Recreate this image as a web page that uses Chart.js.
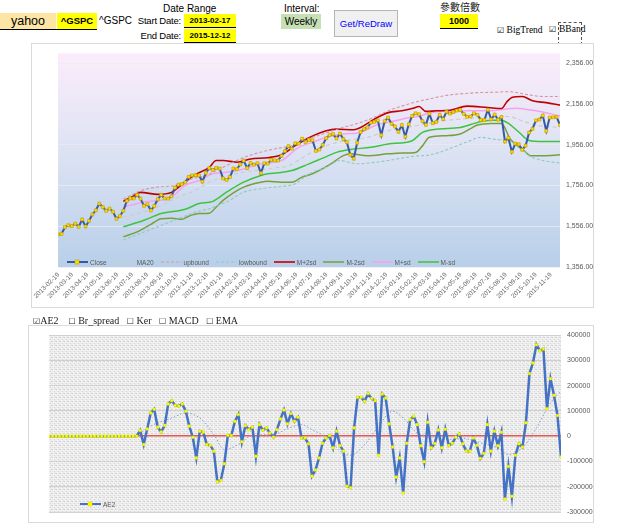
<!DOCTYPE html>
<html><head><meta charset="utf-8">
<script src="https://cdn.jsdelivr.net/npm/chart.js@4.4.1/dist/chart.umd.min.js"></script>
<style>
html,body{margin:0;padding:0;background:#fff;}
body{width:640px;height:527px;position:relative;overflow:hidden;font-family:"Liberation Sans",Arial,sans-serif;color:#000;}
.a{position:absolute;white-space:nowrap;}
.box{position:absolute;text-align:center;box-sizing:border-box;}
.panel{position:absolute;box-sizing:border-box;border:1px solid #dadada;background:#fff;}
canvas{position:absolute;}
.serif{font-family:"Liberation Serif","Times New Roman",serif;}
.leg{position:absolute;display:flex;align-items:center;font-size:6.5px;color:#595959;white-space:nowrap;}
.leg .it{display:flex;align-items:center;margin-right:7px;}
.leg svg{margin-right:2px;}
.cb{font-family:'DejaVu Sans';font-size:8px;}
</style></head><body>

<!-- header -->
<div class="box" style="left:0;top:13px;width:56px;height:16px;background:#fde5a6;font-size:12.5px;line-height:16px;">yahoo</div>
<div class="box" style="left:57px;top:13px;width:40px;height:16px;background:#ffff00;font-size:9.5px;font-weight:bold;line-height:16px;">^GSPC</div>
<div class="a" style="left:0;top:29px;width:97px;height:1px;background:#000;"></div>
<div class="a" style="left:99px;top:14px;font-size:10px;line-height:14px;">^GSPC</div>
<div class="a" style="left:163px;top:2px;font-size:10px;line-height:14px;">Date Range</div>
<div class="a" style="left:120px;width:61px;text-align:right;top:14px;font-size:9.5px;letter-spacing:-0.2px;line-height:14px;">Start Date:</div>
<div class="box" style="left:184px;top:14px;width:52px;height:14px;background:#ffff00;border-bottom:1px solid #000;font-size:8px;font-weight:bold;line-height:13px;">2013-02-17</div>
<div class="a" style="left:120px;width:61px;text-align:right;top:29px;font-size:9.5px;letter-spacing:-0.2px;line-height:14px;">End Date:</div>
<div class="box" style="left:184px;top:29px;width:52px;height:14px;background:#ffff00;border-bottom:1px solid #000;font-size:8px;font-weight:bold;line-height:13px;">2015-12-12</div>
<div class="a" style="left:284px;top:2px;font-size:10px;line-height:14px;">Interval:</div>
<div class="box" style="left:281px;top:14px;width:40px;height:15px;background:#c6e0b4;font-size:10px;line-height:15px;">Weekly</div>
<div class="box" style="left:334px;top:10px;width:64px;height:27px;background:#f0f0f0;border:1px solid #b5b5b5;color:#0000ff;font-size:9.5px;line-height:25px;">Get/ReDraw</div>
<div class="a" style="left:440px;top:0px;font-size:10px;line-height:13px;font-family:'Noto Sans CJK TC',sans-serif;color:#222;">參數倍數</div>
<div class="box" style="left:440px;top:14px;width:38px;height:15px;background:#ffff00;border-bottom:1px solid #000;font-size:9px;font-weight:bold;line-height:14px;">1000</div>
<div class="a serif" style="left:497px;top:24px;font-size:9.5px;line-height:12px;"><span class="cb">☑</span> BigTrend</div>
<div class="a" style="left:549px;top:24px;font-size:8px;line-height:12px;font-family:'DejaVu Sans';">☑</div>
<div class="a serif" style="left:558px;top:22px;width:24px;height:23px;box-sizing:border-box;border:1px dashed #555;font-size:9.5px;line-height:12px;">BBand</div>

<!-- top panel -->
<div class="panel" style="left:31px;top:43px;width:563px;height:265px;"></div>
<canvas id="top" width="563" height="265" style="left:31px;top:43px;width:563px;height:265px;"></canvas>
<div id="legTop" class="leg" style="left:67px;top:258px;height:8px;"></div>

<!-- lower panel -->
<div class="panel" style="left:28px;top:325px;width:566px;height:198px;"></div>
<canvas id="low" width="566" height="198" style="left:28px;top:325px;width:566px;height:198px;"></canvas>
<div id="legLow" class="leg" style="left:80px;top:500px;height:8px;"></div>

<!-- lower checkboxes -->
<div class="a serif" style="left:33px;top:313px;font-size:10px;line-height:15px;color:#222;z-index:3;">
<span class="cb">☑</span>AE2&nbsp;&nbsp;&nbsp;&nbsp;<span class="cb">☐</span> Br_spread&nbsp;&nbsp;&nbsp;<span class="cb">☐</span> Ker&nbsp;&nbsp;&nbsp;<span class="cb">☐</span> MACD&nbsp;&nbsp;&nbsp;<span class="cb">☐</span> EMA</div>

<script>
// ---------- data ----------
const baseDate = '2013-02-18';
const monthLabels = ['2013-02-19','2013-03-19','2013-04-19','2013-05-19','2013-06-19','2013-07-19','2013-08-19','2013-09-19','2013-10-19','2013-11-19','2013-12-19',
 '2014-01-19','2014-02-19','2014-03-19','2014-04-19','2014-05-19','2014-06-19','2014-07-19','2014-08-19','2014-09-19','2014-10-19','2014-11-19','2014-12-19',
 '2015-01-19','2015-02-19','2015-03-19','2015-04-19','2015-05-19','2015-06-19','2015-07-19','2015-08-19','2015-09-19','2015-10-19','2015-11-19'];
const topTicks = [1356,1556,1756,1956,2156,2356];
const lowTicks = [-300000,-200000,-100000,0,100000,200000,300000,400000];

// weekly close
const closeVals = [1516,1518,1551,1561,1557,1569,1553,1589,1555,1582,1614,1634,1667,1650,1631,1643,1627,1592,1606,1632,
 1680,1692,1692,1710,1691,1656,1664,1633,1655,1688,1710,1692,1691,1703,1745,1760,1762,1771,1798,1805,
 1806,1805,1775,1818,1841,1831,1842,1839,1790,1783,1797,1839,1836,1859,1878,1841,1866,1858,1865,1816,
 1865,1863,1881,1879,1878,1901,1924,1949,1936,1963,1961,1985,1968,1978,1978,1925,1932,1955,1988,2003,
 2008,1986,2010,1983,1968,1906,1887,1965,2018,2032,2040,2064,2068,2075,2002,2071,2089,2058,2045,2019,
 2052,1995,2056,2097,2110,2105,2071,2053,2108,2061,2067,2102,2081,2118,2108,2116,2123,2126,2107,2093,
 2094,2110,2102,2077,2077,2127,2080,2104,2078,2092,1971,1989,1921,1961,1958,1931,1951,2015,2033,2075,
 2079,2099,2023,2089,2090,2092,2052];

// band lines (week index, value)
const ma20Weeks = [19,25,30,35,40,44,49,54,59,63,67,73,78,84,90,96,103,112,120,127,131,135,139,146];
const ma20Vals  = [1601,1626,1658,1699,1732,1772,1801,1821,1833,1842,1853,1911,1951,1976,1992,2024,2045,2073,2085,2089,2094,2073,2052,2040];
const upWeeks = [19,24,29,34,39,43,48,53,58,63,68,72,77,82,88,92,96,100,104,108,112,117,122,127,131,136,141,146];
const upVals  = [1688,1730,1748,1756,1789,1805,1845,1886,1915,1935,1951,1980,2008,2036,2065,2090,2122,2145,2165,2180,2195,2205,2211,2213,2216,2203,2192,2192];
const lowWeeks = [19,25,30,35,40,44,49,54,59,64,69,73,78,82,87,91,96,100,104,108,115,119,123,127,131,134,137,141,146];
const lowVals  = [1488,1528,1560,1593,1625,1642,1675,1723,1740,1750,1764,1813,1845,1878,1862,1867,1878,1890,1900,1905,1943,1970,1992,1982,1975,1950,1902,1878,1866];
const p2Weeks = [19,22,24,29,33,36,40,44,46,48,52,56,61,65,69,73,78,81,86,88,92,96,100,103,105,107,110,114,119,125,129,130.5,132,135,138,142,146];
const p2Vals  = [1678,1705,1722,1712,1722,1760,1810,1845,1878,1878,1870,1886,1892,1906,1951,1990,2024,2032,2029,2040,2081,2113,2122,2133,2143,2119,2122,2125,2145,2138,2133,2165,2187,2192,2171,2162,2150];
const m2Weeks = [19,23,27,30,33,36,38,41,44,46,48,51,54,59,61,65,68,71,74,79,83,85,90,96,100,104,106,108,113,117,120,122,126,129,131.5,135.5,137.5,141,146];
const m2Vals  = [1504,1528,1565,1593,1595,1590,1605,1618,1620,1650,1683,1720,1748,1772,1776,1772,1772,1797,1813,1858,1902,1911,1902,1911,1915,1918,1950,1992,2000,2008,2035,2052,2060,2060,1984,1927,1902,1902,1906];
const p1Weeks = [19,25,30,33,37,41,45,49,54,59,65,70,74,78,83,88,92,98,102,105,108,117,126,130,133,139,146];
const p1Vals  = [1650,1675,1683,1699,1756,1780,1813,1821,1837,1862,1878,1943,1967,1992,2008,2016,2049,2073,2088,2095,2111,2122,2122,2130,2135,2122,2097];
const m1Weeks = [19,25,30,37,41,45,49,54,59,61,64,68,73,77,81,85,91,96,101,103,106,110,117,122,126,129,131,134,137,141,146];
const m1Vals  = [1553,1585,1618,1639,1667,1678,1723,1772,1805,1813,1818,1829,1862,1890,1918,1932,1943,1959,1967,1975,2016,2032,2040,2065,2076,2076,2060,2018,1976,1971,1971];

// AE2 indicator
const ae2Vals = [0,0,0,0,0,0,0,0,0,0,0,0,0,0,0,0,0,0,0,0,0,0,0,0,0,0,
 22500,-33000,29000,92000,107000,36000,17000,43000,128000,141000,122000,119000,128000,99000,40000,-4000,-86000,20000,16000,-33000,-36000,-59000,-180000,-175000,
 -109000,4000,3000,59000,86000,-22000,42000,26000,36000,-79000,46000,24000,33000,13000,-4000,26000,68000,104000,49000,90000,
 59000,75000,-7000,-7000,-30000,-158000,-134000,-86000,-28000,-7000,3000,
 -46000,20000,-37000,-59000,-198000,-204000,33000,154000,154000,138000,169000,149000,141000,-75000,167000,151000,49000,-43000,-162000,-86000,
 -225000,-28000,66000,79000,46000,-38000,-101000,55000,-46000,-29000,25000,-46000,28000,-37000,-28000,-4000,9000,-30000,-59000,-59000,
 -7000,-36000,-88000,-68000,46000,-59000,20000,-38000,16000,-249000,-120000,-238000,-75000,-30000,-43000,53000,248000,290000,362000,339000,
 345000,109000,228000,162000,82000,-82000];
const aeMaWeeks = [25,29,35,39,43,47,50,54,58,64,68,72,75,80,83,86,90,94,98,101,105,109,113,118,123,128,131,135,139,143,146];
const aeMaVals  = [0,40000,72000,92000,72000,7000,-53000,-33000,4000,7000,30000,46000,26000,-13000,-59000,-75000,-33000,40000,99000,72000,13000,0,-13000,-9000,-26000,-46000,-72000,-46000,33000,132000,180000];

// ---------- helpers ----------
const DAY = 864e5;
const monthPos = monthLabels.map(d => (Date.parse(d+'T00:00:00Z') - Date.parse(baseDate+'T00:00:00Z')) / (7*DAY));
const pts = (ws, vs) => ws.map((w,k) => ({x:w, y:vs[k]}));
const series = vs => vs.map((v,i) => ({x:i, y:v}));
const lastWeek = closeVals.length - 1;

Chart.defaults.font.family = '"Liberation Sans", Arial, sans-serif';
Chart.defaults.color = '#595959';

const line = (label, data, color, width, dash) => ({label, data, borderColor:color, borderWidth:width, borderDash:dash||[], pointRadius:0, cubicInterpolationMode:'monotone', fill:false});

const topSets = [
  {label:'Close', data:series(closeVals), borderColor:'#335aa6', borderWidth:2, pointStyle:'rect', pointRadius:2, pointBackgroundColor:'#ffdd00', pointBorderColor:'#c9a200', pointBorderWidth:0.7, tension:0},
  line('MA20', pts(ma20Weeks, ma20Vals), '#cdcdcd', 1.2, [4,3]),
  line('upbound', pts(upWeeks, upVals), '#d9959f', 1.1, [3,2]),
  line('lowbound', pts(lowWeeks, lowVals), '#8ccbc0', 1.1, [3,2]),
  line('M+2sd', pts(p2Weeks, p2Vals), '#c00000', 1.6),
  line('M-2sd', pts(m2Weeks, m2Vals), '#76a03a', 1.5),
  line('M+sd', pts(p1Weeks, p1Vals), '#f7a1f0', 1.5),
  line('M-sd', pts(m1Weeks, m1Vals), '#3ec43e', 1.5)
];

const bgTop = {id:'bgTop', beforeDraw(c){
  const a=c.chartArea, x=c.ctx;
  const g=x.createLinearGradient(0,a.top,0,a.bottom);
  g.addColorStop(0,'#fcecfb'); g.addColorStop(0.45,'#dde3f3'); g.addColorStop(1,'#b8cfe9');
  x.save(); x.fillStyle=g; x.fillRect(a.left,a.top,a.right-a.left,a.bottom-a.top); x.restore();
}};

new Chart(document.getElementById('top'), {
  type:'line',
  data:{datasets:topSets},
  options:{
    responsive:false, animation:false,
    layout:{padding:{left:27,right:0,top:8,bottom:0}},
    plugins:{legend:{display:false}, tooltip:{enabled:false}},
    scales:{
      x:{type:'linear', min:0, max:lastWeek,
         grid:{display:false, drawTicks:false}, border:{display:false},
         afterBuildTicks:s=>{s.ticks = monthPos.map(v=>({value:v}));},
         afterFit:s=>{s.height=41;},
         ticks:{autoSkip:false, maxRotation:45, minRotation:45, padding:4, font:{size:6.5}, color:'#6a6a6a',
                callback:(v,i)=>monthLabels[i]}},
      y:{position:'right', min:1356, max:2404.5,
         afterBuildTicks:s=>{s.ticks = topTicks.map(v=>({value:v}));},
         afterFit:s=>{s.width=34;},
         grid:{color:'rgba(235,235,240,0.75)', drawTicks:false}, border:{display:false},
         ticks:{padding:6, font:{size:7}, color:'#595959',
                callback:v=>Number(v).toLocaleString('en-US',{minimumFractionDigits:2, maximumFractionDigits:2})}}
    }
  },
  plugins:[bgTop]
});

// lower chart
const pc=document.createElement('canvas'); pc.width=4; pc.height=4;
const pcx=pc.getContext('2d');
pcx.fillStyle='#ececec'; pcx.fillRect(0,0,4,4);
pcx.fillStyle='#d4d4d4'; pcx.fillRect(0,0,1,1); pcx.fillRect(2,2,1,1); pcx.fillRect(3,0,1,1);
pcx.fillStyle='#f8f8f8'; pcx.fillRect(1,3,1,1); pcx.fillRect(3,1,1,1); pcx.fillRect(1,1,1,1);
const bgLow = {id:'bgLow', beforeDraw(c){
  const a=c.chartArea, x=c.ctx;
  x.save(); x.fillStyle=x.createPattern(pc,'repeat'); x.fillRect(a.left,a.top,a.right-a.left,a.bottom-a.top); x.restore();
}};

const lowSets = [
  {label:'AE2', data:series(ae2Vals), borderColor:'#4472c4', borderWidth:2.5, pointStyle:'rect', pointRadius:1.8, pointBackgroundColor:'#ffff00', pointBorderColor:'#e0e000', pointBorderWidth:0.5, tension:0},
  {label:'AE2 avg', data:pts(aeMaWeeks, aeMaVals), borderColor:'#7b9fdc', borderWidth:1, borderDash:[1.5,2], pointRadius:0, cubicInterpolationMode:'monotone', hideLegend:true}
];

new Chart(document.getElementById('low'), {
  type:'line',
  data:{datasets:lowSets},
  options:{
    responsive:false, animation:false,
    layout:{padding:{left:21,right:0,top:9,bottom:11}},
    plugins:{legend:{display:false}, tooltip:{enabled:false}},
    scales:{
      x:{type:'linear', min:0, max:lastWeek, display:false},
      y:{position:'right', min:lowTicks[0], max:lowTicks[lowTicks.length-1],
         afterBuildTicks:s=>{s.ticks = lowTicks.map(v=>({value:v}));},
         afterFit:s=>{s.width=33;},
         grid:{color:c=>c.tick && c.tick.value===0 ? '#e8564f' : 'rgba(205,205,205,0.9)',
               lineWidth:c=>c.tick && c.tick.value===0 ? 1.5 : 1, drawTicks:false},
         border:{display:false},
         ticks:{padding:6, font:{size:7}, color:'#595959', callback:v=>String(v)}}
    }
  },
  plugins:[bgLow]
});

// html legends built from datasets
function legend(el, sets){
  sets.filter(d=>!d.hideLegend).forEach(d=>{
    const it=document.createElement('span'); it.className='it';
    const dash=(d.borderDash&&d.borderDash.length)?` stroke-dasharray="${d.borderDash.join(',')}"`:'';
    let m='';
    if(d.pointRadius>0) m=`<rect x="8" y="1" width="4" height="4" fill="${d.pointBackgroundColor}" stroke="${d.pointBorderColor}" stroke-width="0.6"/>`;
    it.innerHTML=`<svg width="21" height="6"><line x1="0" y1="3" x2="21" y2="3" stroke="${d.borderColor}" stroke-width="${Math.min(d.borderWidth,2)}"${dash}/>${m}</svg><span>${d.label}</span>`;
    el.appendChild(it);
  });
}
legend(document.getElementById('legTop'), topSets);
legend(document.getElementById('legLow'), lowSets);
</script>
</body></html>
